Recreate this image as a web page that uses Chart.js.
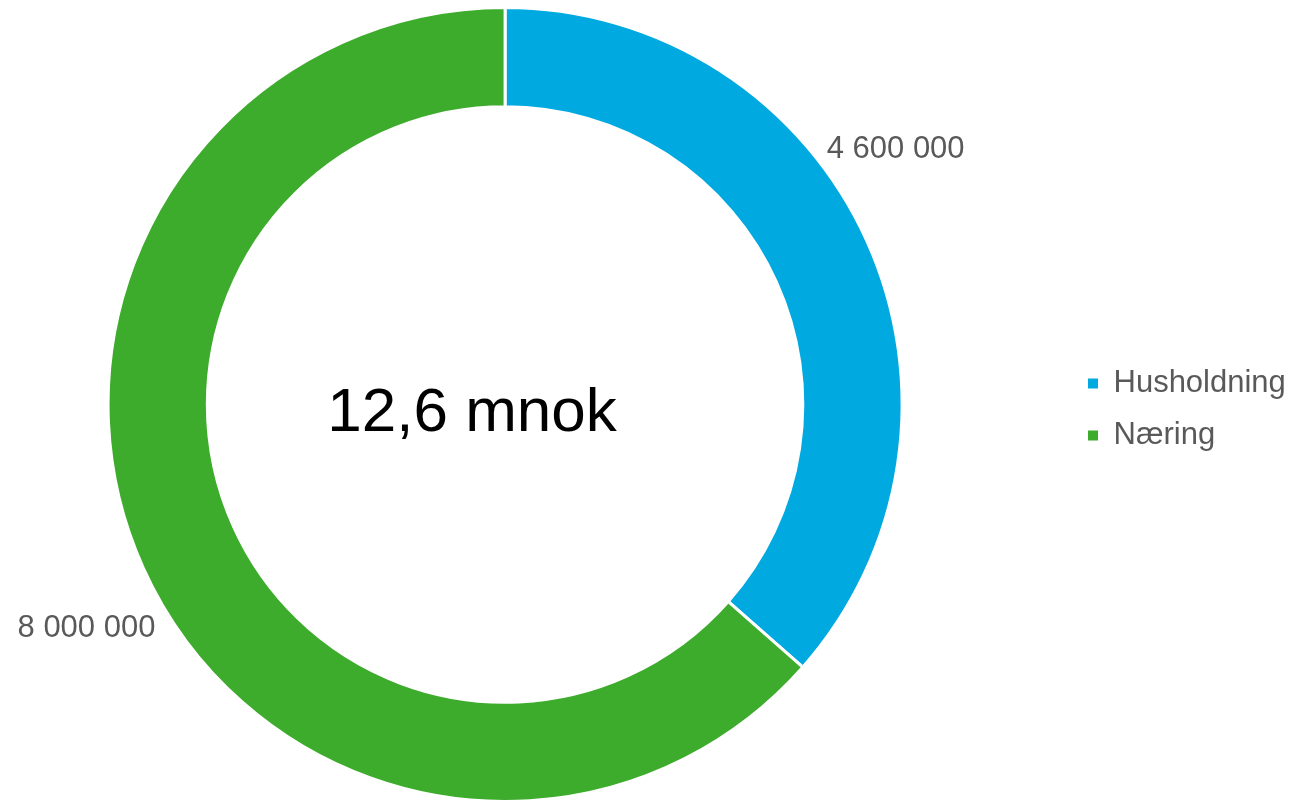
<!DOCTYPE html>
<html>
<head>
<meta charset="utf-8">
<script src="https://cdn.jsdelivr.net/npm/chart.js@4"></script>
<style>
	html, body { margin: 0; padding: 0; background: #fff; }
	#wrap { width: 1301px; height: 803px; }
</style>
</head>
<body>
<div id="wrap"><canvas id="doughnut-chart"></canvas></div>
<script>
// Chart data
const categories = ['Husholdning', 'Næring'];
const values = [4600000, 8000000];
const centerLabel = '12,6 mnok';

const sliceColors = ['#00A9E0', '#3DAB2B'];

// "4 600 000" style numbers
const formatNumber = (v) => String(v).replace(/\B(?=(\d{3})+(?!\d))/g, ' ');

// Draws the value labels outside the ring and the text in the middle,
// and moves the legend over to the right edge
const ringLabels = {
	id: 'ringLabels',
	afterLayout(chart, args, opts) {
		const lg = chart.legend;
		if (lg) {
			const w = lg.right - lg.left;
			lg.left = opts.legendLeft;
			lg.right = opts.legendLeft + w;
			lg.top += opts.legendDown;
			lg.bottom += opts.legendDown;
		}
	},
	afterDatasetsDraw(chart, args, opts) {
		const ctx = chart.ctx;
		const arcs = chart.getDatasetMeta(0).data;
		ctx.save();
		ctx.fillStyle = opts.color;
		ctx.font = opts.font;
		ctx.textAlign = 'center';
		ctx.textBaseline = 'alphabetic';
		arcs.forEach((arc, i) => {
			const mid = (arc.startAngle + arc.endAngle) / 2 + opts.nudge[i] * Math.PI / 180;
			const r = opts.distance[i];
			ctx.fillText(formatNumber(chart.data.datasets[0].data[i]), arc.x + Math.cos(mid) * r, arc.y + Math.sin(mid) * r);
		});
		// center text
		const a = arcs[0];
		ctx.fillStyle = '#000';
		ctx.font = opts.centerFont;
		ctx.fillText(centerLabel, a.x + opts.centerOffset[0], a.y + opts.centerOffset[1]);
		ctx.restore();
	}
};

document.addEventListener('DOMContentLoaded', () => {
	const el = document.getElementById('doughnut-chart');
	const defaultLabels = Chart.overrides.doughnut.plugins.legend.labels.generateLabels;
	new Chart(el, {
		type: 'doughnut',
		data: {
			labels: categories,
			datasets: [{
				data: values,
				backgroundColor: sliceColors,
				borderColor: '#fff',
				borderWidth: 3
			}]
		},
		options: {
			responsive: true,
			maintainAspectRatio: false,
			animation: false,
			cutout: '75%',
			layout: {
				padding: { left: 0, right: 62, top: 6, bottom: 0 }
			},
			plugins: {
				tooltip: { enabled: false },
				legend: {
					position: 'right',
					labels: {
						boxWidth: 10,
						boxHeight: 10,
						padding: 21,
						color: '#595959',
						font: { family: '"Liberation Sans", Arial, sans-serif', size: 31 },
						generateLabels(chart) {
							return defaultLabels(chart).map(item => ({ ...item, lineWidth: 0 }));
						}
					}
				},
				ringLabels: {
					color: '#595959',
					font: '31px "Liberation Sans", Arial, sans-serif',
					nudge: [-8.0, -4.8],
					distance: [462, 479],
					centerFont: '62px "Liberation Sans", Arial, sans-serif',
					centerOffset: [-33, 26],
					legendLeft: 1067,
					legendDown: 5
				}
			}
		},
		plugins: [ringLabels]
	});
});
</script>
</body>
</html>
